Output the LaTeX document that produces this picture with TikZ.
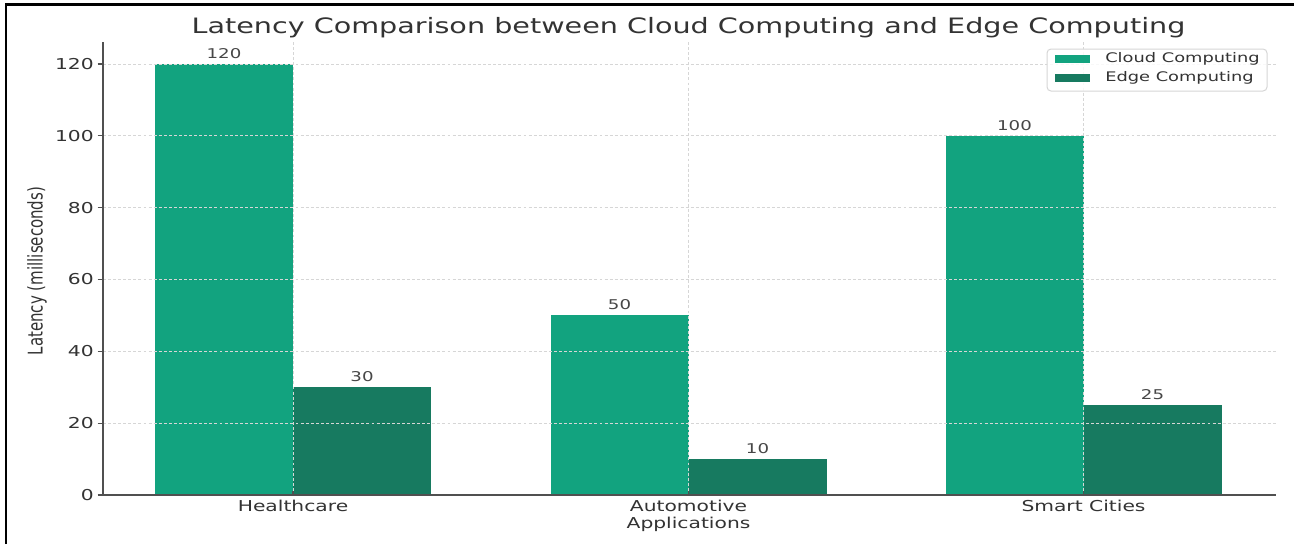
\documentclass[tikz,border=0pt]{standalone}
\usepackage{fontspec}
\setmainfont{DejaVu Sans}
\usepackage{graphicx}
\definecolor{cloudc}{RGB}{18,163,127}
\definecolor{edgec}{RGB}{23,122,96}
\definecolor{txt}{RGB}{51,51,51}
\definecolor{gridc}{RGB}{214,214,214}
\definecolor{spinec}{RGB}{80,80,80}
% horizontal stretch applied to all upright text
\newcommand{\hx}[1]{\scalebox{1.35}[1]{#1}}
\begin{document}
\begin{tikzpicture}[x=0.75pt,y=-0.75pt,
  lab/.style={inner sep=0pt,text=txt},
  titlelab/.style={lab,font=\fontsize{15.9}{19}\selectfont},
  ticklab/.style={lab,font=\fontsize{11.25}{14}\selectfont},
  vallab/.style={lab,text=black!72,font=\fontsize{10.1}{12}\selectfont},
  leglab/.style={lab,font=\fontsize{9.9}{12}\selectfont},
  gridline/.style={draw=gridc,line width=0.7pt,dash pattern=on 2.2pt off 1.6pt},
  spine/.style={draw=spinec,line width=1.3pt},
  tickmark/.style={draw=spinec,line width=1pt},
  cloudbar/.style={fill=cloudc},
  edgebar/.style={fill=edgec},
  legendbox/.style={draw=gridc,fill=white,fill opacity=0.85,rounded corners=3pt,line width=0.75pt}
]
\useasboundingbox (0,0) rectangle (1294,544);
\fill[white] (0,0) rectangle (1294,544);

% data frame geometry: zero line at 495 px, 3.592 px per millisecond
\def\yz{495}
\def\ys{3.592}
\def\bw{138}

% bars
\foreach \c/\cv/\ev in {293/120/30, 688.5/50/10, 1083.5/100/25}{
  \fill[cloudbar] ({\c-\bw},\yz) rectangle (\c,{\yz-\ys*\cv});
  \fill[edgebar] (\c,\yz) rectangle ({\c+\bw},{\yz-\ys*\ev});
}

% grid on top of bars
\foreach \v in {20,40,...,120}
  \draw[gridline] (103,{\yz-\ys*\v}) -- (1276,{\yz-\ys*\v});
\foreach \c in {293,688.5,1083.5}
  \draw[gridline] (\c,42) -- (\c,\yz);

% axes
\draw[spine] (103,42) -- (103,\yz) -- (1276,\yz);
\foreach \v in {0,20,...,120}{
  \draw[tickmark] (97.5,{\yz-\ys*\v}) -- (103,{\yz-\ys*\v});
  \node[ticklab,anchor=east] (yt\v) at (94,{\yz-\ys*\v}) {\hx{\v}};
}
\foreach \c in {293,688.5,1083.5}
  \draw[tickmark] (\c,\yz) -- (\c,{\yz-4});

% category labels
\node[ticklab] (xHealth) at (293,506) {\hx{Healthcare}};
\node[ticklab] (xAuto1) at (688.5,506) {\hx{Automotive}};
\node[ticklab] (xAuto2) at (688.5,524) {\hx{Applications}};
\node[ticklab] (xSmart) at (1083.5,506) {\hx{Smart Cities}};

% value labels
\foreach \c/\cv/\ev in {293/120/30, 688.5/50/10, 1083.5/100/25}{
  \node[vallab,anchor=south] (vc\cv) at ({\c-\bw/2},{\yz-\ys*\cv-5}) {\hx{\cv}};
  \node[vallab,anchor=south] (ve\ev) at ({\c+\bw/2},{\yz-\ys*\ev-5}) {\hx{\ev}};
}

% axis title and chart title
\node[ticklab] (ylab) at (37,271) {\scalebox{1.35}[1]{\rotatebox{90}{Latency (milliseconds)}}};
\node[titlelab] (title) at (688.5,27.5) {\hx{Latency Comparison between Cloud Computing and Edge Computing}};

% legend
\draw[legendbox] (1047,49) rectangle (1267,91);
\fill[cloudbar] (1055,55) rectangle (1090,63);
\fill[edgebar] (1055,74) rectangle (1090,82);
\node[leglab,anchor=west] (lgCloud) at (1105,59) {\hx{Cloud Computing}};
\node[leglab,anchor=west] (lgEdge) at (1105,78) {\hx{Edge Computing}};

% page frame
\draw[black,line width=1.7pt] (6,544) -- (6,4.5) -- (1294,4.5);
\end{tikzpicture}
\end{document}
